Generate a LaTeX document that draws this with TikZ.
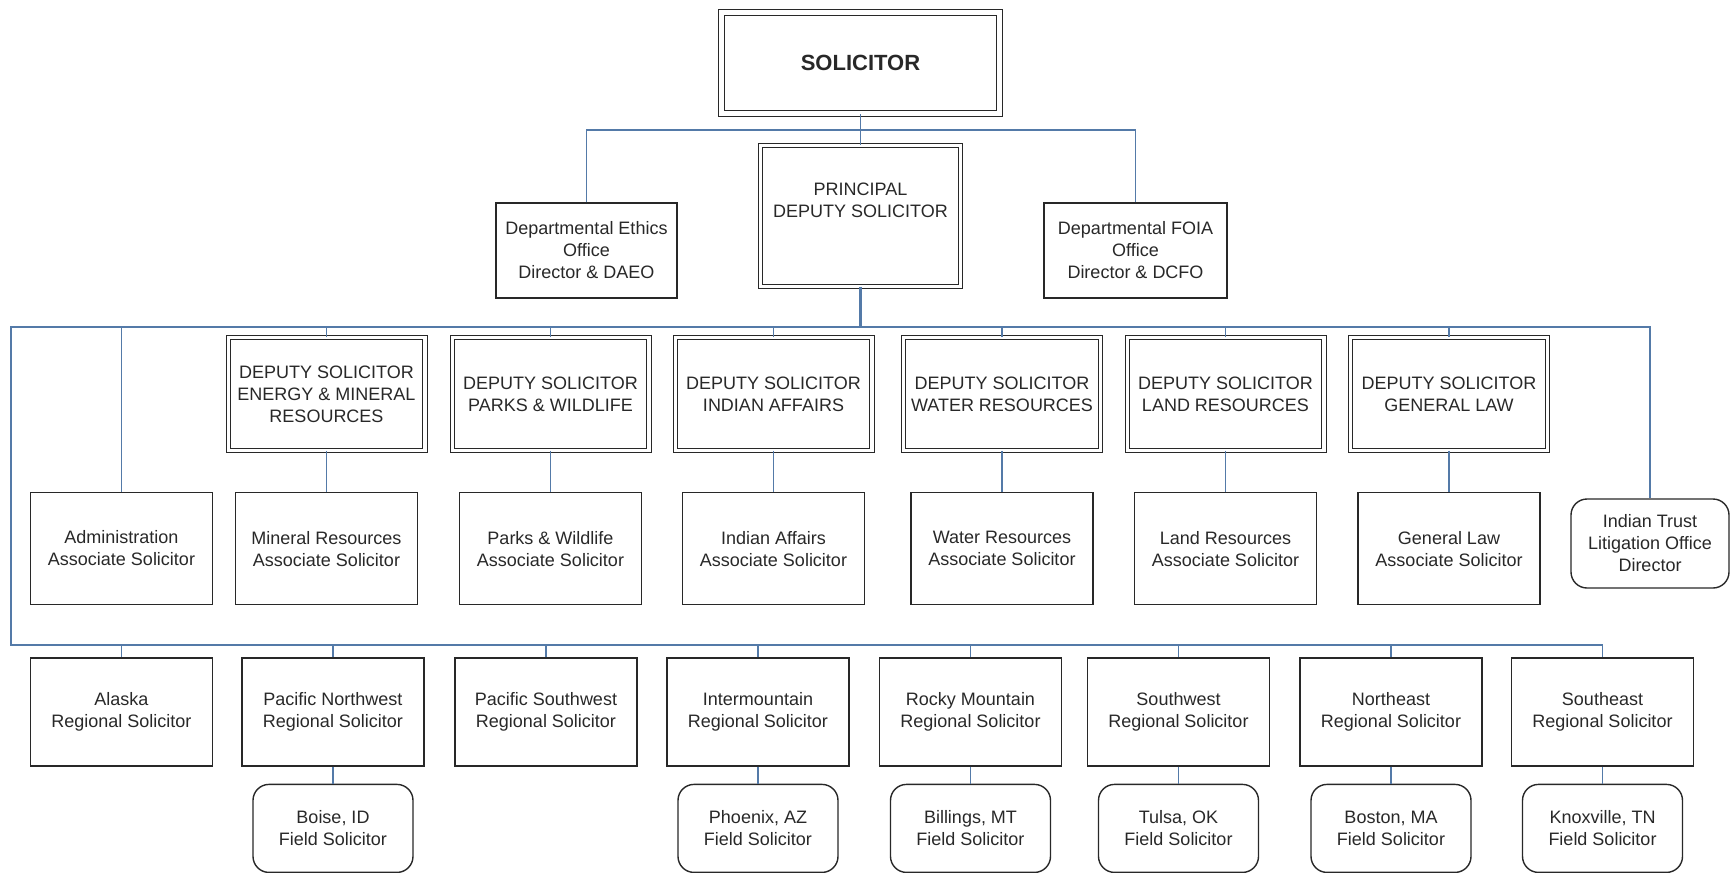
\documentclass[tikz,border=0pt]{standalone}
\usepackage{fontspec}
\setmainfont{Liberation Sans}
\usetikzlibrary{positioning}
\definecolor{linkblue}{RGB}{84,122,168}
\definecolor{boxgray}{RGB}{40,40,40}

\begin{document}
\begin{tikzpicture}[x=0.5pt,y=-0.5pt,node distance=10pt,
		font=\fontsize{9}{11}\selectfont,text=boxgray,
		box/.style={draw=boxgray,line width=0.7pt,align=center,inner sep=2pt,minimum width=91pt,minimum height=56pt},
		dbox/.style={box,double,double distance=1.6pt,line width=0.5pt,minimum width=98.4pt,minimum height=56.4pt},
		regbox/.style={box,minimum height=54pt},
		fieldbox/.style={box,rounded corners=8pt,minimum width=80pt,minimum height=44pt},
		link/.style={draw=linkblue,line width=0.9pt}]
	\useasboundingbox (0,0) rectangle (1730,873);
	
	% top level
	\node [dbox,double distance=2.2pt,line width=0.6pt,minimum width=139pt,minimum height=50.6pt,font=\fontsize{11}{13}\selectfont\bfseries] (sol) at (860.5,63) {SOLICITOR};
	\node [dbox,minimum width=99.9pt,minimum height=70.4pt] (pds) at (860.5,216) {PRINCIPAL\\DEPUTY SOLICITOR\\[5pt]~};
	\node [box,minimum width=90.5pt,minimum height=47.5pt] (ethics) at (586.5,250.5) {Departmental Ethics\\Office\\Director \& DAEO};
	\node [box,minimum width=91.5pt,minimum height=47.5pt] (foia) at (1135.5,250.5) {Departmental FOIA\\Office\\Director \& DCFO};
	\coordinate (topbar) at (860.5,130);
	
	% deputy solicitors
	\node [dbox] (dsenergy) at (326.5,394) {DEPUTY SOLICITOR\\ENERGY \& MINERAL\\RESOURCES};
	\node [dbox] (dsparks)  at (550.5,394) {DEPUTY SOLICITOR\\PARKS \& WILDLIFE};
	\node [dbox] (dsindian) at (773.5,394) {DEPUTY SOLICITOR\\INDIAN AFFAIRS};
	\node [dbox] (dswater)  at (1002,394)  {DEPUTY SOLICITOR\\WATER RESOURCES};
	\node [dbox] (dsland)   at (1225.5,394) {DEPUTY SOLICITOR\\LAND RESOURCES};
	\node [dbox] (dsgen)    at (1449,394)  {DEPUTY SOLICITOR\\GENERAL LAW};
	
	% associate solicitors
	\node [box] (admin) at (121.5,548.5) {Administration\\Associate Solicitor};
	\node [box,below=20.5pt of dsenergy] (asmineral) {Mineral Resources\\Associate Solicitor};
	\node [box,below=20.5pt of dsparks]  (asparks)   {Parks \& Wildlife\\Associate Solicitor};
	\node [box,below=20.5pt of dsindian] (asindian)  {Indian Affairs\\Associate Solicitor};
	\node [box,below=20.5pt of dswater]  (aswater)   {Water Resources\\Associate Solicitor};
	\node [box,below=20.5pt of dsland]   (asland)    {Land Resources\\Associate Solicitor};
	\node [box,below=20.5pt of dsgen]    (asgen)     {General Law\\Associate Solicitor};
	\node [fieldbox,minimum width=79pt,minimum height=44.5pt] (trust) at (1650,543.5) {Indian Trust\\Litigation Office\\Director};
	
	% regional solicitors
	\node [regbox] (alaska) at (121.5,712) {Alaska\\Regional Solicitor};
	\node [regbox] (pnw)    at (333,712)   {Pacific Northwest\\Regional Solicitor};
	\node [regbox] (psw)    at (546,712)   {Pacific Southwest\\Regional Solicitor};
	\node [regbox] (imtn)   at (758,712)   {Intermountain\\Regional Solicitor};
	\node [regbox] (rocky)  at (970.5,712) {Rocky Mountain\\Regional Solicitor};
	\node [regbox] (swest)  at (1178.5,712) {Southwest\\Regional Solicitor};
	\node [regbox] (neast)  at (1391,712)  {Northeast\\Regional Solicitor};
	\node [regbox] (seast)  at (1602.5,712) {Southeast\\Regional Solicitor};
	
	% field solicitors
	\node [fieldbox,below=8.5pt of pnw]   (boise)     {Boise, ID\\Field Solicitor};
	\node [fieldbox,below=8.5pt of imtn]  (phoenix)   {Phoenix, AZ\\Field Solicitor};
	\node [fieldbox,below=8.5pt of rocky] (billings)  {Billings, MT\\Field Solicitor};
	\node [fieldbox,below=8.5pt of swest] (tulsa)     {Tulsa, OK\\Field Solicitor};
	\node [fieldbox,below=8.5pt of neast] (boston)    {Boston, MA\\Field Solicitor};
	\node [fieldbox,below=8.5pt of seast] (knoxville) {Knoxville, TN\\Field Solicitor};
	
	\coordinate (busL) at (11,327);
	\coordinate (lowL) at (11,645);
	
	\draw [link] (sol) -- (pds);
	\draw [link] (ethics.north) |- (topbar) -| (foia.north);
	\draw [link,line width=1.4pt] (pds.south) -- (pds.south |- busL);
	\draw [link] (trust.north) |- (busL) -- (lowL) -| (seast.north);
	\foreach \n in {admin,dsenergy,dsparks,dsindian,dswater,dsland,dsgen}
		\draw [link] (\n.north) -- (\n.north |- busL);
	\foreach \a/\b in {dsenergy/asmineral,dsparks/asparks,dsindian/asindian,dswater/aswater,dsland/asland,dsgen/asgen}
		\draw [link] (\a) -- (\b);
	\foreach \n in {alaska,pnw,psw,imtn,rocky,swest,neast}
		\draw [link] (\n.north) -- (\n.north |- lowL);
	\foreach \a/\b in {pnw/boise,imtn/phoenix,rocky/billings,swest/tulsa,neast/boston,seast/knoxville}
		\draw [link] (\a) -- (\b);
\end{tikzpicture}
\end{document}
